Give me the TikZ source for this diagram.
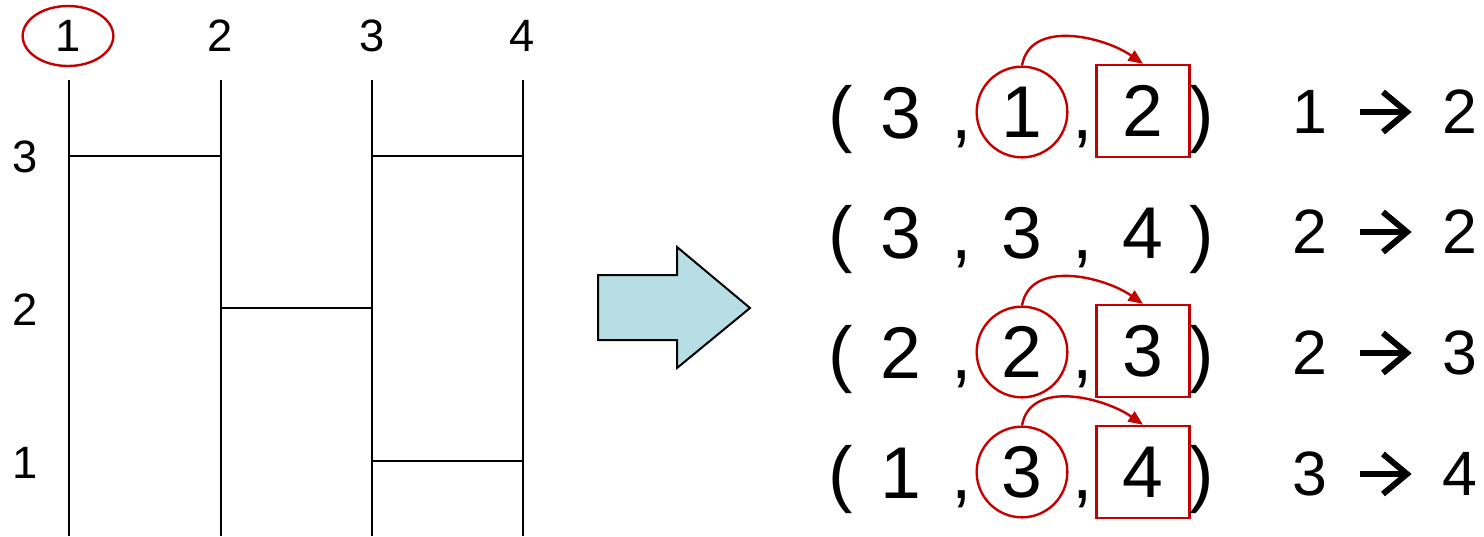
\documentclass[tikz,border=0pt]{standalone}
\usepackage{fontspec}
\setmainfont{Liberation Sans}
\usepackage{tikz}
\usetikzlibrary{shapes.geometric,arrows.meta}
\definecolor{markred}{RGB}{196,0,0}
\definecolor{arrowblue}{RGB}{183,222,228}

\begin{document}
\begin{tikzpicture}[% 1 unit = 1 pixel of the reference, y goes down as negative
			x=0.75pt,y=0.75pt,
			every node/.style={inner sep=0pt},
			lbl/.style={font=\fontsize{34}{40}\selectfont},
			tupfont/.style={font=\fontsize{55}{60}\selectfont},
			tup/.style={tupfont,anchor=base},
			res/.style={font=\fontsize{47}{52}\selectfont},
			rail/.style={line width=1.5pt},
			circ/.style={circle,tupfont,draw=markred,line width=1.8pt,minimum size=68pt},
			sq/.style={rectangle,tupfont,draw=markred,line width=1.8pt,minimum width=70pt,minimum height=69pt},
			hop/.style={draw=markred,line width=1.8pt,-{Triangle[length=11pt,width=9pt]}},
			chev/.style={line width=4.5pt,-{Straight Barb[length=18pt,width=30pt,line cap=butt,line join=miter]},shorten <=24pt,shorten >=23pt}
		]
		\useasboundingbox (0,0) rectangle (1484,-536);
		% ladder
		\foreach \x in {69,221,372,523}
			\draw[rail] (\x,-80) -- (\x,-536);
		\draw[rail] (69,-156) -- (221,-156);
		\draw[rail] (372,-156) -- (523,-156);
		\draw[rail] (221,-308) -- (372,-308);
		\draw[rail] (372,-461) -- (523,-461);
		\node[lbl,ellipse,draw=markred,line width=1.8pt,minimum width=68pt,minimum height=45pt](T1) at (68,-36) {1};
		\node[lbl](T2) at (220,-36) {2};
		\node[lbl](T3) at (372,-36) {3};
		\node[lbl](T4) at (522,-36) {4};
		\node[lbl](S3) at (25,-157) {3};
		\node[lbl](S2) at (25,-310) {2};
		\node[lbl](S1) at (25,-463) {1};
		% block arrow
		\draw[line width=1.5pt,fill=arrowblue,line join=miter] (598,-275) -- (677,-275) -- (677,-247) -- (750,-308)
			-- (677,-368) -- (677,-340) -- (598,-340) -- cycle;
		% row 1
		\node[tup](L1) at (841,-138) {(};
		\node[tup](A1) at (901,-138) {3};
		\node[tup](K1) at (962,-138) {,};
		\node[circ](C1) at (1022,-112) {1};
		\node[tup](M1) at (1083,-138) {,};
		\node[sq](B1) at (1143,-111) {2};
		\node[tup](R1) at (1202,-138) {)};
		\node[res](P1) at (1310,-112) {1};
		\node[res](Q1) at (1460,-112) {2};
		% row 2
		\node[tup](L2) at (841,-258) {(};
		\node[tup](A2) at (901,-258) {3};
		\node[tup](K2) at (962,-258) {,};
		\node[tup](C2) at (1022,-258) {3};
		\node[tup](M2) at (1083,-258) {,};
		\node[tup](B2) at (1143,-258) {4};
		\node[tup](R2) at (1202,-258) {)};
		\node[res](P2) at (1310,-232) {2};
		\node[res](Q2) at (1460,-232) {2};
		% row 3
		\node[tup](L3) at (841,-378) {(};
		\node[tup](A3) at (901,-378) {2};
		\node[tup](K3) at (962,-378) {,};
		\node[circ](C3) at (1022,-352) {2};
		\node[tup](M3) at (1083,-378) {,};
		\node[sq](B3) at (1143,-351) {3};
		\node[tup](R3) at (1202,-378) {)};
		\node[res](P3) at (1310,-353) {2};
		\node[res](Q3) at (1460,-353) {3};
		% row 4
		\node[tup](L4) at (841,-498) {(};
		\node[tup](A4) at (901,-498) {1};
		\node[tup](K4) at (962,-498) {,};
		\node[circ](C4) at (1022,-472) {3};
		\node[tup](M4) at (1083,-498) {,};
		\node[sq](B4) at (1143,-472) {4};
		\node[tup](R4) at (1202,-498) {)};
		\node[res](P4) at (1310,-474) {3};
		\node[res](Q4) at (1460,-474) {4};
		% hops
		\path
		(C1.north) edge [hop,out=80,in=145] (B1.north)
		(C3.north) edge [hop,out=80,in=145] (B3.north)
		(C4.north) edge [hop,out=80,in=145] (B4.north)
		;
		\draw[chev] (P1) -- (Q1);
		\draw[chev] (P2) -- (Q2);
		\draw[chev] (P3) -- (Q3);
		\draw[chev] (P4) -- (Q4);
	\end{tikzpicture}
\end{document}
